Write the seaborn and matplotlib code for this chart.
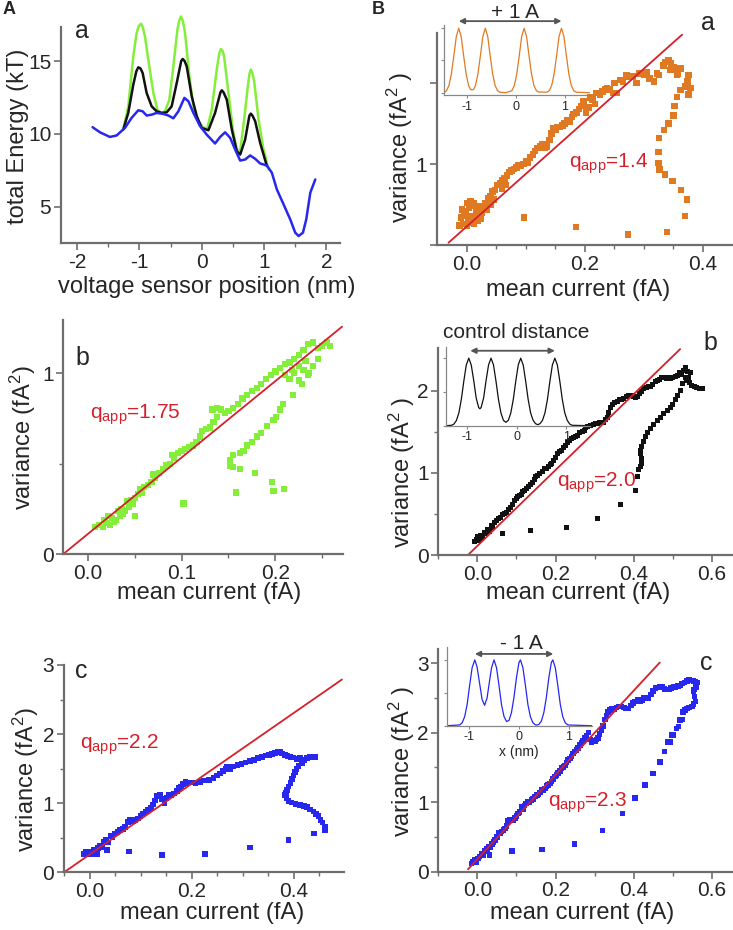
import matplotlib
matplotlib.use('Agg')
import matplotlib.pyplot as plt
import seaborn as sns

sns.set_theme(style='ticks')
plt.rcParams['font.family'] = ['Liberation Sans', 'DejaVu Sans']
plt.rcParams['mathtext.default'] = 'regular'
plt.rcParams['axes.unicode_minus'] = False

W, H = 733, 930
GREEN = '#84ee3a'
BLUE = '#2727ee'
ORANGE = '#e07a22'
RED = '#d4202a'
BLACK = '#111111'
GREY = '#6e6e6e'

# ---------------- data ----------------
# A a: energy landscapes (x in nm, energy in kT)
blue_x = [-1.753, -1.635, -1.475, -1.367, -1.233, -1.126, -1.019, -0.949, -0.885, -0.804,
          -0.724, -0.617, -0.536, -0.456, -0.375, -0.279, -0.214, -0.134, -0.027, 0.080,
          0.214, 0.295, 0.375, 0.456, 0.536, 0.617, 0.697, 0.777, 0.858, 0.938,
          1.046, 1.126, 1.206, 1.314, 1.421, 1.501, 1.555, 1.625, 1.678, 1.743, 1.823]
blue_y = [10.46, 10.11, 9.79, 9.89, 10.41, 11.10, 11.62, 11.55, 11.26, 11.32,
          11.44, 11.37, 11.26, 11.07, 11.55, 12.47, 12.24, 11.44, 10.53, 9.95,
          9.34, 9.79, 10.11, 9.73, 8.93, 8.17, 8.24, 8.52, 8.29, 7.97,
          7.83, 7.33, 6.19, 5.16, 4.13, 3.22, 2.99, 3.22, 4.13, 5.96, 6.87]
black_x = [-1.26, -1.180, -1.099, -1.05, -1.019, -0.985, -0.949, -0.885, -0.804, -0.724,
           -0.643, -0.563, -0.483, -0.402, -0.33, -0.306, -0.275, -0.241, -0.161, -0.080,
           0.000, 0.107, 0.214, 0.30, 0.322, 0.35, 0.402, 0.483, 0.563, 0.617,
           0.697, 0.765, 0.788, 0.815, 0.858, 0.938, 1.046]
black_y = [10.30, 11.44, 13.38, 14.3, 14.57, 14.5, 14.18, 12.81, 11.89, 11.55,
           11.44, 11.48, 11.89, 13.49, 15.0, 15.14, 15.0, 14.63, 12.58, 11.21,
           10.41, 10.25, 11.44, 12.85, 12.99, 12.85, 12.35, 10.30, 8.81, 8.58,
           9.61, 11.25, 11.39, 11.25, 10.87, 9.38, 7.79]
green_x = [-1.26, -1.180, -1.099, -1.046, -1.01, -0.976, -0.945, -0.912, -0.842, -0.777,
           -0.713, -0.654, -0.590, -0.520, -0.456, -0.391, -0.36, -0.332, -0.30, -0.268,
           -0.198, -0.134, -0.054, 0.027, 0.091, 0.161, 0.241, 0.28, 0.306, 0.335,
           0.359, 0.429, 0.499, 0.563, 0.617, 0.681, 0.740, 0.765, 0.788, 0.812,
           0.842, 0.912, 0.992, 1.072]
green_y = [10.30, 11.89, 15.32, 16.92, 17.4, 17.56, 17.3, 16.69, 14.63, 12.81,
           11.67, 11.44, 11.55, 12.35, 14.63, 17.15, 17.8, 18.06, 17.7, 16.92,
           13.95, 11.89, 10.87, 10.41, 10.41, 11.67, 14.41, 15.5, 15.82, 15.7,
           15.32, 12.81, 10.30, 8.93, 8.81, 10.98, 13.26, 14.1, 14.41, 14.2,
           13.61, 10.98, 8.93, 7.56]

# A b: green, mean current vs variance
ab_x = [0.008, 0.012, 0.016, 0.020, 0.024, 0.028, 0.018, 0.022, 0.026, 0.030,
        0.034, 0.038, 0.032, 0.036, 0.040, 0.044, 0.048, 0.042, 0.046, 0.050,
        0.054, 0.058, 0.056, 0.060, 0.064, 0.068, 0.072, 0.070, 0.076, 0.080,
        0.084, 0.088, 0.092, 0.090, 0.096, 0.100, 0.104, 0.108, 0.112, 0.116,
        0.120, 0.122, 0.126, 0.130, 0.134, 0.138, 0.133, 0.138, 0.142, 0.146,
        0.150, 0.155, 0.160, 0.165, 0.170, 0.175, 0.180, 0.185, 0.190, 0.195,
        0.200, 0.205, 0.210, 0.215, 0.220, 0.225, 0.230, 0.235, 0.240, 0.245,
        0.250, 0.255, 0.258, 0.210, 0.215, 0.220, 0.225, 0.230, 0.235, 0.240,
        0.245, 0.225, 0.218, 0.232, 0.219, 0.208, 0.205, 0.201, 0.198, 0.191,
        0.185, 0.180, 0.175, 0.170, 0.166, 0.162, 0.155, 0.152, 0.152, 0.155,
        0.162, 0.178, 0.196, 0.198, 0.209, 0.158, 0.102, 0.050, 0.228, 0.236]
ab_y = [0.15, 0.16, 0.15, 0.17, 0.16, 0.18, 0.19, 0.21, 0.20, 0.19,
        0.21, 0.22, 0.24, 0.25, 0.24, 0.26, 0.28, 0.29, 0.30, 0.31,
        0.33, 0.34, 0.36, 0.37, 0.38, 0.40, 0.42, 0.44, 0.45, 0.47,
        0.49, 0.50, 0.53, 0.55, 0.56, 0.57, 0.58, 0.59, 0.60, 0.62,
        0.65, 0.68, 0.69, 0.70, 0.73, 0.76, 0.80, 0.81, 0.80, 0.78,
        0.79, 0.81, 0.83, 0.86, 0.88, 0.90, 0.92, 0.94, 0.97, 0.99,
        1.01, 1.03, 1.05, 1.06, 1.08, 1.10, 1.13, 1.16, 1.17, 1.14,
        1.15, 1.17, 1.15, 0.99, 0.97, 1.00, 0.96, 1.02, 0.99, 1.04,
        1.08, 1.04, 1.02, 1.07, 0.88, 0.83, 0.80, 0.76, 0.74, 0.71,
        0.67, 0.65, 0.62, 0.60, 0.57, 0.56, 0.55, 0.52, 0.49, 0.48,
        0.47, 0.45, 0.40, 0.35, 0.36, 0.34, 0.28, 0.21, 0.94, 1.00]

# A c: blue
ac_x = [-0.012, -0.008, -0.004, 0.000, 0.004, 0.008, 0.012, 0.016, 0.020, 0.024,
        0.028, 0.032, 0.036, 0.041, 0.045, 0.050, 0.055, 0.060, 0.065, 0.070,
        0.075, 0.080, 0.085, 0.090, 0.095, 0.100, 0.105, 0.110, 0.115, 0.120,
        0.125, 0.129, 0.133, 0.138, 0.142, 0.147, 0.151, 0.156, 0.160, 0.165,
        0.171, 0.176, 0.180, 0.184, 0.188, 0.191, 0.196, 0.200, 0.208, 0.217,
        0.225, 0.234, 0.243, 0.250, 0.256, 0.262, 0.267, 0.270, 0.276, 0.282,
        0.290, 0.298, 0.306, 0.314, 0.322, 0.330, 0.338, 0.345, 0.352, 0.358,
        0.364, 0.370, 0.374, 0.378, 0.383, 0.388, 0.394, 0.400, 0.406, 0.413,
        0.420, 0.426, 0.433, 0.438, 0.443, 0.416, 0.410, 0.406, 0.403, 0.400,
        0.397, 0.394, 0.390, 0.387, 0.385, 0.384, 0.386, 0.390, 0.396, 0.404,
        0.413, 0.420, 0.426, 0.433, 0.439, 0.444, 0.449, 0.453, 0.457, 0.462,
        0.462, 0.440, 0.390, 0.315, 0.227, 0.142, 0.078, 0.034, 0.005, 0.015]
ac_y = [0.27, 0.29, 0.26, 0.30, 0.28, 0.32, 0.31, 0.35, 0.38, 0.36,
        0.44, 0.47, 0.43, 0.53, 0.51, 0.56, 0.58, 0.61, 0.63, 0.66,
        0.73, 0.76, 0.74, 0.76, 0.78, 0.82, 0.85, 0.88, 0.90, 0.93,
        0.98, 1.04, 1.10, 1.12, 1.06, 1.00, 1.08, 1.12, 1.11, 1.14,
        1.18, 1.22, 1.24, 1.28, 1.31, 1.29, 1.30, 1.30, 1.29, 1.31,
        1.33, 1.34, 1.36, 1.40, 1.43, 1.47, 1.50, 1.53, 1.50, 1.53,
        1.55, 1.57, 1.59, 1.61, 1.62, 1.65, 1.67, 1.69, 1.70, 1.71,
        1.73, 1.74, 1.75, 1.72, 1.70, 1.68, 1.67, 1.66, 1.64, 1.65,
        1.62, 1.65, 1.67, 1.66, 1.67, 1.58, 1.54, 1.50, 1.45, 1.40,
        1.35, 1.29, 1.24, 1.19, 1.15, 1.12, 1.07, 1.03, 1.01, 0.99,
        0.97, 0.96, 0.95, 0.91, 0.88, 0.84, 0.81, 0.76, 0.72, 0.66,
        0.61, 0.56, 0.47, 0.36, 0.27, 0.25, 0.30, 0.32, 0.26, 0.27]

# B a: orange (+1 A)
ba_x = [-0.012, -0.006, 0.000, 0.006, 0.012, 0.018, 0.024, -0.010, -0.004, 0.002,
        0.008, 0.014, 0.020, 0.026, -0.008, -0.002, 0.004, 0.010, 0.016, 0.022,
        0.028, 0.000, 0.006, 0.012, 0.032, 0.036, 0.040, 0.044, 0.048, 0.052,
        0.034, 0.040, 0.046, 0.056, 0.060, 0.064, 0.068, 0.072, 0.076, 0.080,
        0.060, 0.066, 0.084, 0.088, 0.092, 0.096, 0.100, 0.104, 0.107, 0.112,
        0.116, 0.120, 0.124, 0.128, 0.132, 0.136, 0.140, 0.144, 0.147, 0.150,
        0.154, 0.158, 0.162, 0.166, 0.170, 0.174, 0.178, 0.181, 0.186, 0.190,
        0.194, 0.198, 0.202, 0.206, 0.209, 0.213, 0.217, 0.220, 0.226, 0.230,
        0.234, 0.238, 0.243, 0.248, 0.250, 0.254, 0.260, 0.265, 0.271, 0.276,
        0.282, 0.288, 0.293, 0.297, 0.301, 0.305, 0.310, 0.317, 0.322, 0.326,
        0.333, 0.337, 0.342, 0.346, 0.350, 0.354, 0.358, 0.362, 0.356, 0.345,
        0.370, 0.374, 0.376, 0.379, 0.376, 0.374, 0.370, 0.362, 0.356, 0.352,
        0.350, 0.342, 0.334, 0.326, 0.325, 0.325, 0.327, 0.336, 0.349, 0.363,
        0.373, 0.370, 0.339, 0.273, 0.185, 0.097]
ba_y = [0.62, 0.63, 0.62, 0.64, 0.63, 0.65, 0.66, 0.67, 0.68, 0.66,
        0.68, 0.67, 0.69, 0.70, 0.72, 0.71, 0.73, 0.74, 0.72, 0.74,
        0.73, 0.76, 0.77, 0.76, 0.76, 0.79, 0.80, 0.83, 0.84, 0.87,
        0.72, 0.75, 0.78, 0.88, 0.90, 0.91, 0.93, 0.95, 0.96, 0.97,
        0.85, 0.87, 0.98, 0.99, 0.99, 1.00, 1.02, 1.01, 1.04, 1.06,
        1.08, 1.10, 1.11, 1.12, 1.10, 1.11, 1.15, 1.19, 1.22, 1.21,
        1.23, 1.23, 1.24, 1.25, 1.27, 1.26, 1.29, 1.31, 1.32, 1.34,
        1.36, 1.39, 1.32, 1.35, 1.41, 1.40, 1.37, 1.44, 1.43, 1.45,
        1.46, 1.47, 1.46, 1.44, 1.50, 1.44, 1.52, 1.51, 1.55, 1.54,
        1.54, 1.50, 1.56, 1.56, 1.55, 1.57, 1.53, 1.51, 1.56, 1.55,
        1.61, 1.63, 1.64, 1.62, 1.60, 1.58, 1.56, 1.59, 1.55, 1.58,
        1.48, 1.51, 1.55, 1.47, 1.43, 1.50, 1.477, 1.457, 1.415, 1.36,
        1.30, 1.25, 1.21, 1.16, 1.076, 1.008, 0.967, 0.936, 0.895, 0.84,
        0.78, 0.68, 0.58, 0.566, 0.61, 0.67]

# B b: black (control)
bb_x = [-0.007, -0.003, 0.001, 0.005, 0.009, 0.013, 0.018, 0.022, 0.026, 0.030,
        0.035, 0.040, 0.045, 0.050, 0.055, 0.060, 0.065, 0.070, 0.075, 0.080,
        0.086, 0.090, 0.095, 0.099, 0.103, 0.108, 0.112, 0.116, 0.120, 0.125,
        0.130, 0.135, 0.140, 0.146, 0.150, 0.155, 0.160, 0.166, 0.171, 0.176,
        0.181, 0.186, 0.190, 0.195, 0.200, 0.205, 0.210, 0.215, 0.220, 0.225,
        0.230, 0.235, 0.240, 0.245, 0.250, 0.256, 0.262, 0.268, 0.273, 0.278,
        0.283, 0.290, 0.296, 0.302, 0.307, 0.313, 0.318, 0.324, 0.328, 0.332,
        0.336, 0.341, 0.346, 0.352, 0.358, 0.365, 0.370, 0.375, 0.382, 0.388,
        0.394, 0.400, 0.405, 0.409, 0.415, 0.421, 0.426, 0.432, 0.438, 0.443,
        0.449, 0.455, 0.460, 0.466, 0.472, 0.477, 0.483, 0.489, 0.494, 0.500,
        0.506, 0.511, 0.517, 0.523, 0.528, 0.533, 0.538, 0.545, 0.540, 0.536,
        0.542, 0.548, 0.555, 0.562, 0.569, 0.575, 0.532, 0.526, 0.519, 0.513,
        0.506, 0.500, 0.494, 0.486, 0.477, 0.468, 0.460, 0.452, 0.443, 0.436,
        0.430, 0.425, 0.421, 0.418, 0.417, 0.419, 0.421, 0.417, 0.413, 0.409,
        0.405, 0.366, 0.307, 0.227, 0.137, 0.065]
bb_y = [0.16, 0.19, 0.22, 0.18, 0.24, 0.21, 0.28, 0.26, 0.31, 0.29,
        0.36, 0.34, 0.40, 0.42, 0.45, 0.46, 0.49, 0.51, 0.52, 0.55,
        0.58, 0.62, 0.67, 0.69, 0.71, 0.72, 0.74, 0.77, 0.79, 0.81,
        0.84, 0.86, 0.88, 0.92, 0.96, 0.97, 0.99, 1.02, 1.06, 1.06,
        1.08, 1.10, 1.12, 1.15, 1.19, 1.24, 1.26, 1.28, 1.31, 1.34,
        1.37, 1.40, 1.42, 1.43, 1.44, 1.46, 1.49, 1.51, 1.52, 1.55,
        1.57, 1.58, 1.59, 1.60, 1.60, 1.61, 1.61, 1.62, 1.65, 1.68,
        1.74, 1.80, 1.83, 1.86, 1.87, 1.89, 1.90, 1.91, 1.93, 1.95,
        1.94, 1.93, 1.92, 1.93, 1.97, 1.99, 2.03, 2.04, 2.05, 2.05,
        2.08, 2.11, 2.13, 2.14, 2.16, 2.17, 2.15, 2.16, 2.15, 2.17,
        2.18, 2.19, 2.22, 2.20, 2.25, 2.28, 2.24, 2.23, 2.16, 2.13,
        2.10, 2.07, 2.06, 2.04, 2.03, 2.03, 2.17, 2.09, 2.01, 1.95,
        1.89, 1.84, 1.80, 1.76, 1.72, 1.68, 1.64, 1.59, 1.54, 1.49,
        1.44, 1.38, 1.32, 1.27, 1.24, 1.18, 1.12, 1.08, 1.04, 0.96,
        0.79, 0.62, 0.45, 0.34, 0.30, 0.26]

# B c: blue (-1 A)
bc_x = [-0.015, -0.011, -0.006, -0.002, 0.002, 0.006, 0.011, 0.015, 0.020, 0.024,
        0.028, 0.032, 0.037, 0.041, 0.045, 0.050, 0.054, 0.058, 0.062, 0.067,
        0.071, 0.075, 0.079, 0.084, 0.088, 0.092, 0.096, 0.100, 0.104, 0.108,
        0.113, 0.117, 0.121, 0.125, 0.130, 0.134, 0.138, 0.143, 0.147, 0.152,
        0.156, 0.160, 0.164, 0.169, 0.173, 0.177, 0.181, 0.186, 0.190, 0.194,
        0.198, 0.203, 0.207, 0.211, 0.215, 0.220, 0.224, 0.228, 0.232, 0.237,
        0.241, 0.245, 0.249, 0.254, 0.258, 0.262, 0.267, 0.271, 0.275, 0.279,
        0.284, 0.288, 0.292, 0.297, 0.301, 0.305, 0.309, 0.313, 0.318, 0.322,
        0.326, 0.330, 0.335, 0.339, 0.344, 0.350, 0.356, 0.362, 0.369, 0.375,
        0.381, 0.387, 0.393, 0.399, 0.404, 0.410, 0.416, 0.421, 0.427, 0.433,
        0.438, 0.444, 0.450, 0.456, 0.462, 0.468, 0.473, 0.479, 0.485, 0.490,
        0.496, 0.502, 0.507, 0.513, 0.519, 0.524, 0.530, 0.536, 0.541, 0.547,
        0.553, 0.558, 0.562, 0.560, 0.555, 0.553, 0.556, 0.558, 0.553, 0.549,
        0.541, 0.536, 0.532, 0.527, 0.524, 0.519, 0.515, 0.510, 0.502, 0.497,
        0.493, 0.488, 0.479, 0.467, 0.450, 0.429, 0.403, 0.371, 0.320, 0.249,
        0.166, 0.089, 0.031]
bc_y = [0.12, 0.14, 0.17, 0.13, 0.19, 0.22, 0.26, 0.24, 0.30, 0.33,
        0.36, 0.35, 0.40, 0.43, 0.46, 0.50, 0.56, 0.55, 0.58, 0.60,
        0.62, 0.66, 0.73, 0.74, 0.75, 0.74, 0.77, 0.80, 0.84, 0.86,
        0.93, 0.90, 0.95, 0.98, 1.01, 1.00, 1.03, 1.05, 1.08, 1.10,
        1.11, 1.14, 1.18, 1.17, 1.20, 1.23, 1.25, 1.27, 1.30, 1.33,
        1.37, 1.39, 1.42, 1.45, 1.49, 1.51, 1.53, 1.57, 1.61, 1.63,
        1.66, 1.70, 1.73, 1.75, 1.78, 1.82, 1.85, 1.88, 1.92, 1.96,
        2.00, 1.90, 1.87, 1.89, 1.88, 1.90, 1.92, 1.98, 2.04, 2.10,
        2.19, 2.25, 2.30, 2.33, 2.35, 2.34, 2.36, 2.38, 2.38, 2.36,
        2.35, 2.35, 2.39, 2.43, 2.45, 2.47, 2.46, 2.47, 2.50, 2.50,
        2.50, 2.55, 2.60, 2.64, 2.65, 2.66, 2.66, 2.63, 2.62, 2.62,
        2.64, 2.66, 2.66, 2.67, 2.68, 2.71, 2.72, 2.74, 2.76, 2.75,
        2.74, 2.73, 2.72, 2.66, 2.62, 2.59, 2.52, 2.45, 2.41, 2.38,
        2.36, 2.35, 2.33, 2.30, 2.19, 2.18, 2.09, 2.06, 1.97, 1.97,
        1.87, 1.87, 1.73, 1.58, 1.41, 1.25, 1.06, 0.84, 0.59, 0.40,
        0.32, 0.30, 0.24]

# linear fits (endpoints)
fit_ab = ([-0.026, 0.271], [0.0, 1.258])
fit_ac = ([-0.05, 0.495], [0.0, 2.79])
fit_ba = ([-0.031, 0.365], [0.514, 1.80])
fit_bb = ([-0.024, 0.519], [0.0, 2.51])
fit_bc = ([-0.024, 0.467], [0.035, 3.01])

# insets: barrier profiles (x in nm, relative height)
ins_a_x = [-1.46, -1.41, -1.36, -1.31, -1.26, -1.21, -1.16, -1.11, -1.06, -1.01,
           -0.96, -0.92, -0.89, -0.86, -0.82, -0.77, -0.72, -0.67, -0.62, -0.57,
           -0.52, -0.47, -0.42, -0.37, -0.32, -0.20, -0.08, -0.03, 0.02, 0.07,
           0.12, 0.17, 0.22, 0.27, 0.32, 0.37, 0.42, 0.47, 0.55, 0.63,
           0.68, 0.73, 0.78, 0.83, 0.88, 0.93, 0.98, 1.03, 1.08, 1.13,
           1.18, 1.23, 1.51]
ins_a_y = [0.0, 0.03, 0.11, 0.29, 0.57, 0.87, 1.0, 0.87, 0.57, 0.29,
           0.11, 0.05, 0.045, 0.05, 0.11, 0.29, 0.57, 0.87, 1.0, 0.87,
           0.57, 0.29, 0.11, 0.03, 0.007, 0.0, 0.03, 0.11, 0.29, 0.57,
           0.87, 1.0, 0.87, 0.57, 0.29, 0.11, 0.03, 0.01, 0.01, 0.007,
           0.03, 0.11, 0.29, 0.57, 0.87, 1.0, 0.87, 0.57, 0.29, 0.11,
           0.03, 0.007, 0.0]
ins_b_x = [-1.43, -1.32, -1.27, -1.22, -1.17, -1.12, -1.07, -1.02, -0.97, -0.92,
           -0.87, -0.82, -0.77, -0.745, -0.72, -0.67, -0.62, -0.57, -0.52, -0.47,
           -0.42, -0.37, -0.32, -0.27, -0.22, -0.17, -0.12, -0.07, -0.02, 0.03,
           0.08, 0.13, 0.18, 0.23, 0.28, 0.33, 0.38, 0.425, 0.47, 0.52,
           0.57, 0.62, 0.67, 0.72, 0.77, 0.82, 0.87, 0.92, 0.97, 1.02,
           1.07, 1.12, 1.48]
ins_b_y = [0.0, 0.006, 0.024, 0.076, 0.19, 0.39, 0.66, 0.90, 1.0, 0.90,
           0.67, 0.41, 0.27, 0.25, 0.27, 0.41, 0.67, 0.90, 1.0, 0.90,
           0.66, 0.39, 0.19, 0.08, 0.05, 0.08, 0.19, 0.39, 0.66, 0.90,
           1.0, 0.90, 0.66, 0.39, 0.19, 0.08, 0.03, 0.015, 0.03, 0.08,
           0.19, 0.39, 0.66, 0.90, 1.0, 0.90, 0.66, 0.39, 0.19, 0.08,
           0.024, 0.006, 0.0]
ins_c_x = [-1.45, -1.19, -1.14, -1.09, -1.04, -0.99, -0.94, -0.886, -0.84, -0.79,
           -0.74, -0.69, -0.64, -0.60, -0.55, -0.50, -0.45, -0.40, -0.35, -0.30,
           -0.25, -0.20, -0.15, -0.10, -0.05, 0.0, 0.03, 0.08, 0.13, 0.18,
           0.23, 0.28, 0.33, 0.36, 0.40, 0.45, 0.50, 0.55, 0.60, 0.65,
           0.68, 0.73, 0.78, 0.83, 0.88, 0.93, 0.98, 1.46]
ins_c_y = [0.0, 0.011, 0.044, 0.135, 0.32, 0.61, 0.88, 1.0, 0.89, 0.645,
           0.40, 0.31, 0.42, 0.63, 0.88, 1.0, 0.88, 0.61, 0.32, 0.14,
           0.064, 0.08, 0.2, 0.43, 0.73, 0.96, 1.0, 0.88, 0.61, 0.32,
           0.135, 0.045, 0.013, 0.01, 0.02, 0.07, 0.2, 0.43, 0.73, 0.96,
           1.0, 0.88, 0.61, 0.32, 0.135, 0.044, 0.011, 0.0]


# ---------------- helpers ----------------
def px_rect(left, top, right, bottom):
    return [left / W, 1 - bottom / H, (right - left) / W, (bottom - top) / H]


def ftxt(xp, yp, s, **kw):
    fig.text(xp / W, 1 - yp / H, s, **kw)


def style_main(ax, xlim, ylim, xmaj, xlab, xmin, ymaj, ylab, ymin):
    ax.set_xlim(xlim)
    ax.set_ylim(ylim)
    sns.despine(ax=ax)
    for s in ['left', 'bottom']:
        ax.spines[s].set_color(GREY)
        ax.spines[s].set_linewidth(1.6)
    ax.set_xticks(xmaj)
    ax.set_xticklabels(xlab)
    ax.set_xticks(xmin, minor=True)
    ax.set_yticks(ymaj)
    ax.set_yticklabels(ylab)
    ax.set_yticks(ymin, minor=True)
    ax.tick_params(which='major', length=5, width=1.2, color=GREY, labelsize=15, pad=2)
    ax.tick_params(which='minor', length=3, width=1.0, color=GREY)
    ax.set_facecolor('none')


def set_labels(ax, xl, yl, xpos, ypos):
    ax.set_xlabel(xl, fontsize=17, va='center')
    ax.set_ylabel(yl, fontsize=17, va='center')
    ax.xaxis.set_label_coords(*xpos)
    ax.yaxis.set_label_coords(*ypos)


def style_inset(ax, xlim, ylim):
    ax.set_xlim(xlim)
    ax.set_ylim(ylim)
    sns.despine(ax=ax)
    for s in ['left', 'bottom']:
        ax.spines[s].set_color('#888888')
        ax.spines[s].set_linewidth(0.9)
    ax.set_xticks([-1, 0, 1])
    ax.set_xticklabels(['-1', '0', '1'])
    ax.set_yticks([0, 0.5, 1.0])
    ax.set_yticklabels([])
    ax.tick_params(length=2.5, width=0.8, color='#888888', labelsize=9, pad=1.5)
    ax.set_facecolor('none')


def inset_arrow(ax, x0, x1, y):
    ax.annotate('', xy=(x1, y), xytext=(x0, y), xycoords='data',
                arrowprops=dict(arrowstyle='<|-|>', color='#555555', lw=1.3,
                                mutation_scale=8, shrinkA=0, shrinkB=0),
                annotation_clip=False)


fig = plt.figure(figsize=(W / 100, H / 100), dpi=100)

# ---------------- A a ----------------
ax = fig.add_axes(px_rect(61, 15, 340, 243.3))
sns.lineplot(x=green_x, y=green_y, color=GREEN, lw=1.8, ax=ax)
sns.lineplot(x=black_x, y=black_y, color=BLACK, lw=1.8, ax=ax)
sns.lineplot(x=blue_x, y=blue_y, color=BLUE, lw=1.8, ax=ax)
style_main(ax, (-2.26, 2.22), (2.49, 18.16), [-2, -1, 0, 1, 2], ['-2', '-1', '0', '1', '2'],
           [-1.5, -0.5, 0.5, 1.5], [5, 10, 15], ['5', '10', '15'], [])
ax.spines['left'].set_bounds(2.49, 17.37)
set_labels(ax, 'voltage sensor position (nm)', 'total Energy (kT)', (0.522, -0.19), (-0.155, 0.47))

# ---------------- A b ----------------
ax = fig.add_axes(px_rect(63.3, 320, 343, 554))
sns.scatterplot(x=ab_x, y=ab_y, marker='s', s=20, color=GREEN, edgecolor='none', ax=ax)
ax.plot(*fit_ab, color=RED, lw=1.3)
style_main(ax, (-0.026, 0.272), (0, 1.295), [0, 0.1, 0.2], ['0.0', '0.1', '0.2'],
           [0.05, 0.15, 0.25], [0, 1], ['0', '1'], [0.5])
set_labels(ax, 'mean current (fA)', 'variance (fA$^2$)', (0.521, -0.167), (-0.144, 0.496))
ax.text(0.0025, 0.77, 'q$_{app}$=1.75', color=RED, fontsize=15, ha='left', va='center')

# ---------------- A c ----------------
ax = fig.add_axes(px_rect(64, 665, 344, 872.3))
sns.scatterplot(x=ac_x, y=ac_y, marker='s', s=17, color=BLUE, edgecolor='none', ax=ax)
ax.plot(*fit_ac, color=RED, lw=1.3)
style_main(ax, (-0.05, 0.499), (0, 3.0), [0, 0.2, 0.4], ['0.0', '0.2', '0.4'],
           [-0.05, 0.05, 0.1, 0.15, 0.25, 0.3, 0.35, 0.45], [0, 1, 2, 3], ['0', '1', '2', '3'],
           [0.5, 1.5, 2.5])
set_labels(ax, 'mean current (fA)', 'variance (fA$^2$)', (0.53, -0.196), (-0.136, 0.445))
ax.text(-0.018, 1.84, 'q$_{app}$=2.2', color=RED, fontsize=15, ha='left', va='center')

# ---------------- B a ----------------
ax = fig.add_axes(px_rect(436.7, 33, 731.7, 245))
sns.scatterplot(x=ba_x, y=ba_y, marker='s', s=22, color=ORANGE, edgecolor='none', ax=ax)
ax.plot(*fit_ba, color=RED, lw=1.3)
style_main(ax, (-0.051, 0.449), (0.5, 1.81), [0, 0.2, 0.4], ['0.0', '0.2', '0.4'],
           [0.05, 0.1, 0.15, 0.25, 0.3, 0.35], [0.5, 1, 1.5], ['', '1', ''], [])
set_labels(ax, 'mean current (fA)', 'variance (fA$^2$ )', (0.48, -0.212), (-0.125, 0.46))
ax.text(0.174, 1.0, 'q$_{app}$=1.4', color=RED, fontsize=15, ha='left', va='center')

# ---------------- B b ----------------
ax = fig.add_axes(px_rect(438.3, 348.3, 731.7, 555))
sns.scatterplot(x=bb_x, y=bb_y, marker='s', s=13, color=BLACK, edgecolor='none', ax=ax)
ax.plot(*fit_bb, color=RED, lw=1.3)
style_main(ax, (-0.096, 0.651), (0, 2.52), [0, 0.2, 0.4, 0.6], ['0.0', '0.2', '0.4', '0.6'],
           [-0.1, 0.1, 0.3, 0.5], [0, 1, 2], ['0', '1', '2'], [0.5, 1.5])
set_labels(ax, 'mean current (fA)', 'variance (fA$^2$ )', (0.477, -0.185), (-0.125, 0.40))
ax.text(0.205, 0.88, 'q$_{app}$=2.0', color=RED, fontsize=15, ha='left', va='center')

# ---------------- B c ----------------
ax = fig.add_axes(px_rect(438.3, 649.3, 731.7, 871.7))
sns.scatterplot(x=bc_x, y=bc_y, marker='s', s=16, color=BLUE, edgecolor='none', ax=ax)
ax.plot(*fit_bc, color=RED, lw=1.3)
style_main(ax, (-0.096, 0.651), (0, 3.2), [0, 0.2, 0.4, 0.6], ['0.0', '0.2', '0.4', '0.6'],
           [-0.1, 0.1, 0.3, 0.5], [0, 1, 2, 3], ['0', '1', '2', '3'], [0.5, 1.5, 2.5])
set_labels(ax, 'mean current (fA)', 'variance (fA$^2$ )', (0.491, -0.187), (-0.125, 0.495))
ax.text(0.181, 0.99, 'q$_{app}$=2.3', color=RED, fontsize=15, ha='left', va='center')

# ---------------- insets ----------------
ax = fig.add_axes(px_rect(444, 25, 590, 95))
sns.lineplot(x=ins_a_x, y=ins_a_y, color=ORANGE, lw=0.9, ax=ax)
style_inset(ax, (-1.46, 1.51), (-0.036, 1.05))
inset_arrow(ax, -1.16, 0.93, 1.11)

ax = fig.add_axes(px_rect(446, 346.7, 590, 425.7))
sns.lineplot(x=ins_b_x, y=ins_b_y, color=BLACK, lw=0.9, ax=ax)
style_inset(ax, (-1.43, 1.48), (0, 1.17))
inset_arrow(ax, -0.94, 0.77, 1.11)

ax = fig.add_axes(px_rect(446.7, 646.7, 591.7, 725.7))
sns.lineplot(x=ins_c_x, y=ins_c_y, color=BLUE, lw=0.9, ax=ax)
style_inset(ax, (-1.45, 1.46), (0, 1.2))
inset_arrow(ax, -0.885, 0.69, 1.09)
ax.set_xlabel('x (nm)', fontsize=10, labelpad=1)

# ---------------- figure texts ----------------
ftxt(3, 10, 'A', fontsize=13, fontweight='bold', ha='left', va='center')
ftxt(372, 10, 'B', fontsize=13, fontweight='bold', ha='left', va='center')
ftxt(81.7, 31, 'a', fontsize=18, ha='center', va='center')
ftxt(82, 358, 'b', fontsize=18, ha='center', va='center')
ftxt(81.7, 671, 'c', fontsize=18, ha='center', va='center')
ftxt(708, 23, 'a', fontsize=18, ha='center', va='center')
ftxt(710, 343, 'b', fontsize=18, ha='center', va='center')
ftxt(706.7, 663, 'c', fontsize=18, ha='center', va='center')
ftxt(515, 12, '+ 1 A', fontsize=15, ha='center', va='center')
ftxt(516, 332, 'control distance', fontsize=15, ha='center', va='center')
ftxt(521.7, 643, '- 1 A', fontsize=15, ha='center', va='center')

fig.savefig('out.png', dpi=100)
